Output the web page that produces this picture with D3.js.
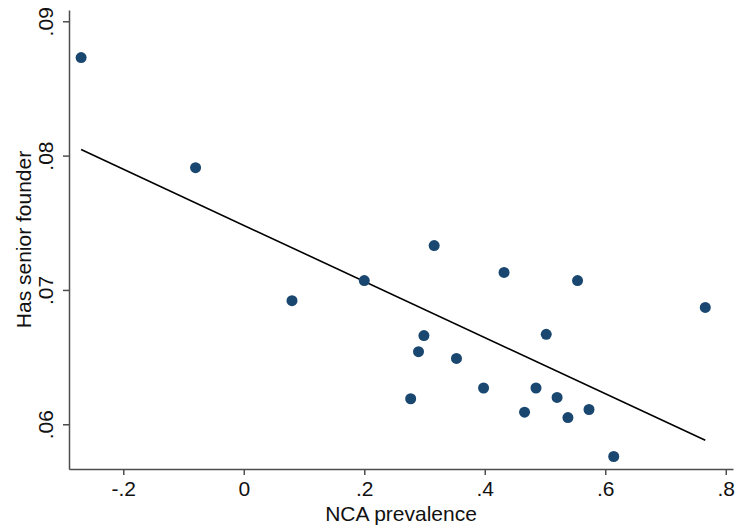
<!DOCTYPE html>
<html>
<head>
<meta charset="utf-8">
<script src="https://cdn.jsdelivr.net/npm/d3@7"></script>
<style>
	body { margin: 0; background: #fff; }
	svg { display: block; font-family: 'Liberation Sans', Arial, sans-serif; }
</style>
</head>
<body>
<svg id="chart"></svg>
<script>
const W = 735
const H = 529

// NCA prevalence (x) and share with senior founder (y)
const ncaValues = [-0.270, -0.080, 0.080, 0.200, 0.316, 0.299, 0.290, 0.353, 0.277, 0.398,
	0.432, 0.554, 0.766, 0.502, 0.485, 0.520, 0.466, 0.538, 0.573, 0.614]
const founderValues = [0.0873, 0.0791, 0.0692, 0.0707, 0.0733, 0.0666, 0.0654, 0.0649, 0.0619, 0.0627,
	0.0713, 0.0707, 0.0687, 0.0667, 0.0627, 0.0620, 0.0609, 0.0605, 0.0611, 0.0576]

// fitted line (fit on the underlying data, so read its ends off the picture)
const fitX = [-0.270, 0.766]
const fitY = [0.08045, 0.05881]

const xTicks = [-0.2, 0, 0.2, 0.4, 0.6, 0.8]
const yTicks = [0.06, 0.07, 0.08, 0.09]

const margin = { left: 69, right: 2, top: 10, bottom: 60 }

const svg = d3.select('#chart')
	.attr('width', W)
	.attr('height', H)

const x = d3.scaleLinear()
	.domain([-0.2901, 0.812])
	.range([margin.left, W - margin.right])

const y = d3.scaleLinear()
	.domain([0.05667, 0.09084])
	.range([H - margin.bottom, margin.top])

// stata style tick labels: drop the leading zero, plain hyphen for minus
const fmt = d => d === 0 ? '0' : d3.format('.1f')(d).replace('0.', '.').replace('\u2212', '-')
const fmtY = d => d3.format('.2f')(d).replace('0.', '.')

const axisColor = '#4d4d4d'

const xAxis = svg.append('g')
	.attr('transform', `translate(0,${H - margin.bottom})`)
	.call(d3.axisBottom(x).tickValues(xTicks).tickSize(6).tickSizeOuter(0).tickFormat(fmt))

const yAxis = svg.append('g')
	.attr('transform', `translate(${margin.left},0)`)
	.call(d3.axisLeft(y).tickValues(yTicks).tickSize(6).tickSizeOuter(0).tickFormat(fmtY))

svg.selectAll('.domain, .tick line')
	.attr('stroke', axisColor)
	.attr('stroke-width', 1.5)

xAxis.selectAll('.tick text')
	.attr('y', 12)
	.attr('dy', '0.71em')
	.style('font-size', '21px')
	.attr('fill', '#111')

yAxis.selectAll('.tick text')
	.attr('x', null)
	.attr('dy', null)
	.attr('text-anchor', 'middle')
	.attr('transform', 'translate(-16,0) rotate(-90)')
	.style('font-size', '21px')
	.attr('fill', '#111')

svg.append('line')
	.attr('x1', x(fitX[0]))
	.attr('y1', y(fitY[0]))
	.attr('x2', x(fitX[1]))
	.attr('y2', y(fitY[1]))
	.attr('stroke', '#000')
	.attr('stroke-width', 1.6)

svg.append('g')
	.selectAll('circle')
	.data(ncaValues)
	.join('circle')
		.attr('cx', d => x(d))
		.attr('cy', (d, i) => y(founderValues[i]))
		.attr('r', 5.5)
		.attr('fill', '#1a476f')

svg.append('text')
	.attr('x', (margin.left + W - margin.right) / 2)
	.attr('y', 521)
	.attr('text-anchor', 'middle')
	.style('font-size', '21px')
	.attr('fill', '#111')
	.text('NCA prevalence')

svg.append('text')
	.attr('transform', `translate(31,${(margin.top + H - margin.bottom) / 2}) rotate(-90)`)
	.attr('text-anchor', 'middle')
	.style('font-size', '21px')
	.attr('fill', '#111')
	.text('Has senior founder')
</script>
</body>
</html>
